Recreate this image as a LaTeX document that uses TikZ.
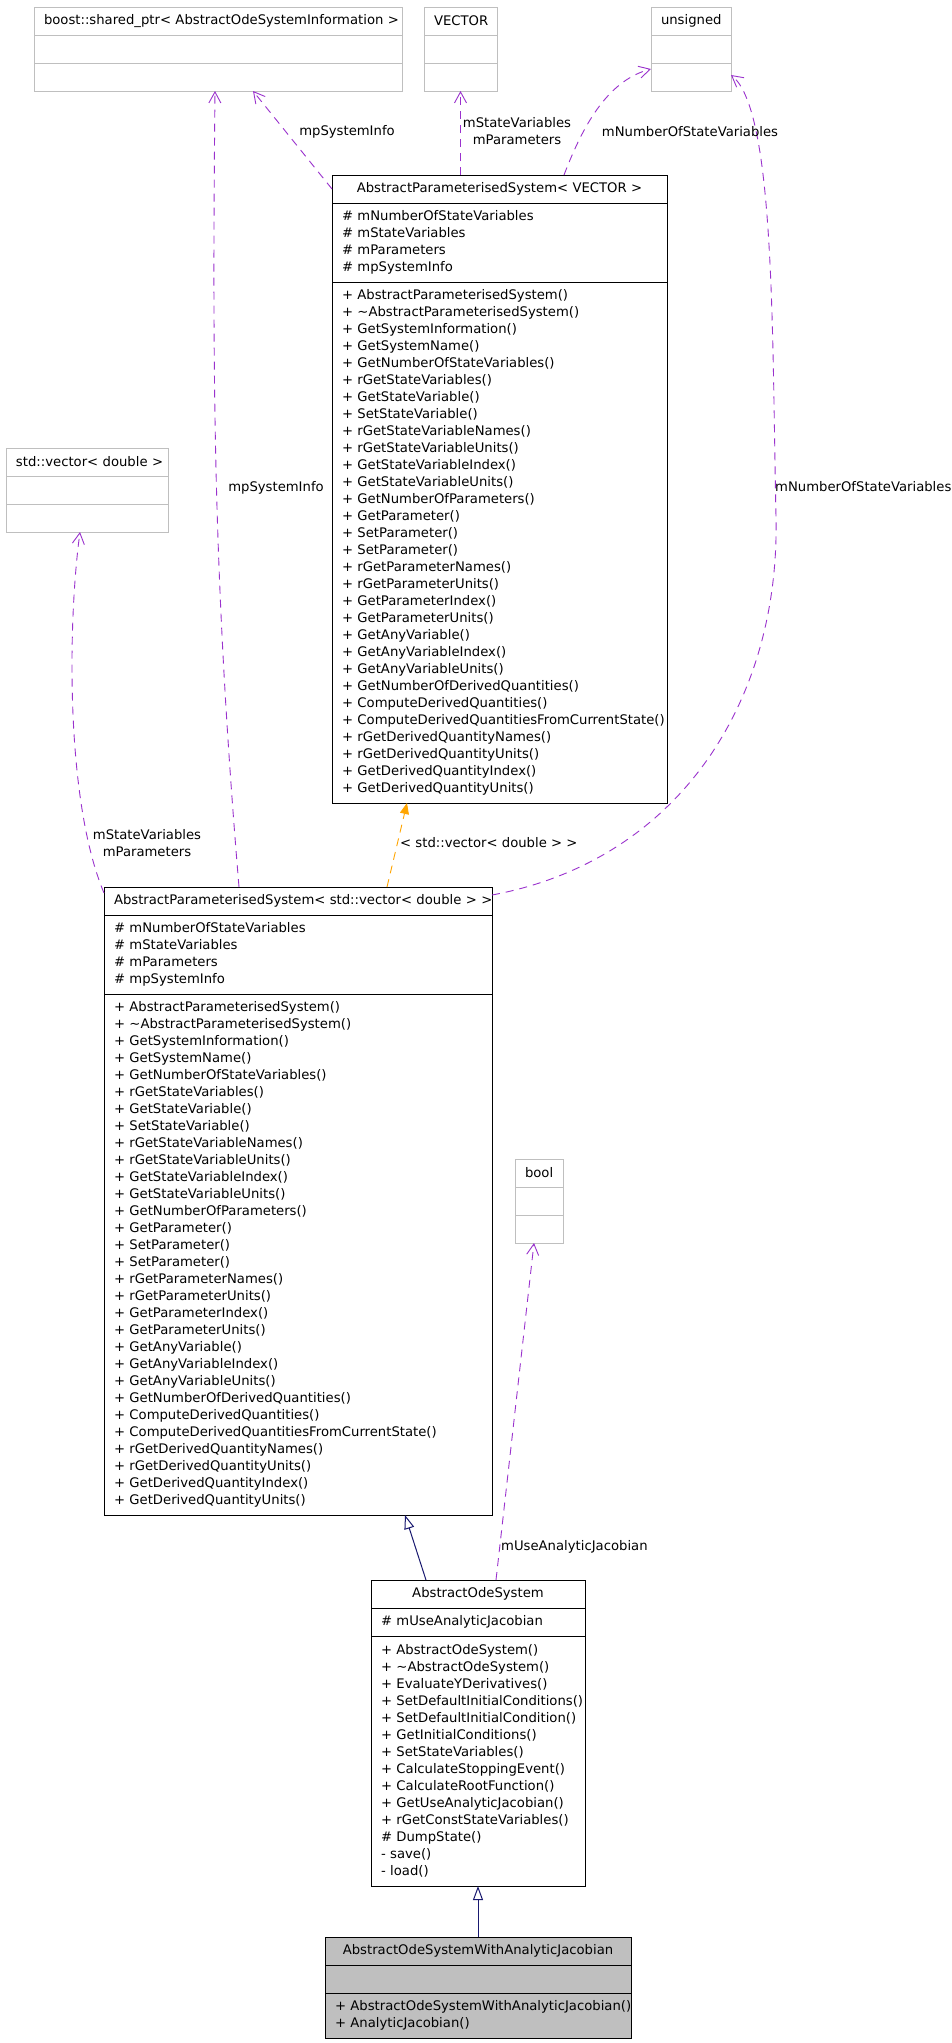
\documentclass[tikz,border=0pt]{standalone}
\usepackage{fontspec}
\setmainfont{DejaVu Sans}
\usetikzlibrary{arrows.meta, positioning, calc}
\definecolor{edgepurple}{RGB}{154,50,205}
\definecolor{edgeorange}{RGB}{255,165,0}
\definecolor{edgeblue}{RGB}{25,25,112}
\definecolor{boxgray}{RGB}{191,191,191}
\hyphenpenalty=10000
\exhyphenpenalty=10000
\tikzset{
  classbox/.style={rectangle, draw=black, line width=1pt, inner xsep=10pt,
    inner ysep=0pt, outer sep=0pt, minimum height=28pt,
    font={\fontsize{13.2}{17}\selectfont}},
  classhead/.style={classbox, align=center},
  classpart/.style={classbox, align=left},
  greybox/.style={draw=boxgray},
  focusbox/.style={fill=boxgray},
  usearrow/.style={-{Straight Barb[length=11pt, width=12pt]}, edgepurple,
    line width=0.9pt, dash pattern=on 8pt off 6pt},
  tplarrow/.style={-{Triangle[length=11pt, width=9pt]}, edgeorange,
    line width=0.9pt, dash pattern=on 8pt off 6pt},
  inhearrow/.style={-{Triangle[length=14pt, width=10pt, fill=white]},
    edgeblue, line width=1pt},
  edgelabel/.style={font={\fontsize{13.2}{17}\selectfont}, inner sep=0pt,
    align=center}
}
\newcommand{\paramsysops}{%
+~AbstractParameterisedSystem()\\
+~\textasciitilde AbstractParameterisedSystem()\\
+~GetSystemInformation()\\
+~GetSystemName()\\
+~GetNumberOfStateVariables()\\
+~rGetStateVariables()\\
+~GetStateVariable()\\
+~SetStateVariable()\\
+~rGetStateVariableNames()\\
+~rGetStateVariableUnits()\\
+~GetStateVariableIndex()\\
+~GetStateVariableUnits()\\
+~GetNumberOfParameters()\\
+~GetParameter()\\
+~SetParameter()\\
+~SetParameter()\\
+~rGetParameterNames()\\
+~rGetParameterUnits()\\
+~GetParameterIndex()\\
+~GetParameterUnits()\\
+~GetAnyVariable()\\
+~GetAnyVariableIndex()\\
+~GetAnyVariableUnits()\\
+~GetNumberOfDerivedQuantities()\\
+~ComputeDerivedQuantities()\\
+~ComputeDerivedQuantitiesFromCurrentState()\\
+~rGetDerivedQuantityNames()\\
+~rGetDerivedQuantityUnits()\\
+~GetDerivedQuantityIndex()\\
+~GetDerivedQuantityUnits()}

\begin{document}
\begin{tikzpicture}[x=1pt, y=-1pt]
  \fill[white] (0,0) rectangle (951,2043);
  \useasboundingbox (0,0) rectangle (951,2043);

  % Types used as members
  \node[classhead, greybox, anchor=north west, text width=348pt] (boosthead) at (34,7)
    {boost::shared\_ptr<~AbstractOdeSystemInformation~>};
  \node[classpart, greybox, text width=348pt, below=0pt of boosthead] (boostattr) {};
  \node[classpart, greybox, text width=348pt, below=0pt of boostattr] (boostops) {};

  \node[classhead, greybox, anchor=north west, text width=53pt] (vectorhead) at (424,7) {VECTOR};
  \node[classpart, greybox, text width=53pt, below=0pt of vectorhead] (vectorattr) {};
  \node[classpart, greybox, text width=53pt, below=0pt of vectorattr] (vectorops) {};

  \node[classhead, greybox, anchor=north west, text width=60pt] (unsignedhead) at (651,7) {unsigned};
  \node[classpart, greybox, text width=60pt, below=0pt of unsignedhead] (unsignedattr) {};
  \node[classpart, greybox, text width=60pt, below=0pt of unsignedattr] (unsignedops) {};

  \node[classhead, greybox, anchor=north west, text width=142pt] (stdvechead) at (6,448)
    {std::vector<~double~>};
  \node[classpart, greybox, text width=142pt, below=0pt of stdvechead] (stdvecattr) {};
  \node[classpart, greybox, text width=142pt, below=0pt of stdvecattr] (stdvecops) {};

  \node[classhead, greybox, anchor=north west, text width=28pt] (boolhead) at (515,1159) {bool};
  \node[classpart, greybox, text width=28pt, below=0pt of boolhead] (boolattr) {};
  \node[classpart, greybox, text width=28pt, below=0pt of boolattr] (boolops) {};

  % AbstractParameterisedSystem< VECTOR >
  \node[classhead, anchor=north west, text width=315pt] (apsvectorhead) at (332,175)
    {AbstractParameterisedSystem<~VECTOR~>};
  \node[classpart, text width=315pt, minimum height=79pt, below=0pt of apsvectorhead] (apsvectorattr)
    {\#~mNumberOfStateVariables\\ \#~mStateVariables\\ \#~mParameters\\ \#~mpSystemInfo};
  \node[classpart, text width=315pt, minimum height=521pt, below=0pt of apsvectorattr] (apsvectorops)
    {\paramsysops};

  % AbstractParameterisedSystem< std::vector< double > >
  \node[classhead, anchor=north west, text width=368pt] (apsdoublehead) at (104,887)
    {AbstractParameterisedSystem<~std::vector<~double~>~>};
  \node[classpart, text width=368pt, minimum height=79pt, below=0pt of apsdoublehead] (apsdoubleattr)
    {\#~mNumberOfStateVariables\\ \#~mStateVariables\\ \#~mParameters\\ \#~mpSystemInfo};
  \node[classpart, text width=368pt, minimum height=521pt, below=0pt of apsdoubleattr] (apsdoubleops)
    {\paramsysops};

  % AbstractOdeSystem
  \node[classhead, anchor=north west, text width=194pt] (odesyshead) at (371,1580) {AbstractOdeSystem};
  \node[classpart, text width=194pt, below=0pt of odesyshead] (odesysattr) {\#~mUseAnalyticJacobian};
  \node[classpart, text width=194pt, minimum height=250pt, below=0pt of odesysattr] (odesysops)
    {+~AbstractOdeSystem()\\
     +~\textasciitilde AbstractOdeSystem()\\
     +~EvaluateYDerivatives()\\
     +~SetDefaultInitialConditions()\\
     +~SetDefaultInitialCondition()\\
     +~GetInitialConditions()\\
     +~SetStateVariables()\\
     +~CalculateStoppingEvent()\\
     +~CalculateRootFunction()\\
     +~GetUseAnalyticJacobian()\\
     +~rGetConstStateVariables()\\
     \#~DumpState()\\
     -~save()\\
     -~load()};

  % AbstractOdeSystemWithAnalyticJacobian
  \node[classhead, focusbox, anchor=north west, text width=286pt] (odejachead) at (325,1937)
    {AbstractOdeSystemWithAnalyticJacobian};
  \node[classpart, focusbox, text width=286pt, below=0pt of odejachead] (odejacattr) {};
  \node[classpart, focusbox, text width=286pt, minimum height=45pt, below=0pt of odejacattr] (odejacops)
    {+~AbstractOdeSystemWithAnalyticJacobian()\\ +~AnalyticJacobian()};

  % usage edges
  \draw[usearrow] (apsvectorhead.west) -- ([xshift=35pt]boostops.south);
  \draw[usearrow] (vectorops.south |- apsvectorhead.north) -- (vectorops.south);
  \draw[usearrow] ([xshift=64.5pt]apsvectorhead.north)
    .. controls (585,120) and (610,80) .. ([yshift=8pt]unsignedops.west);
  \draw[usearrow] ([xshift=-59pt]apsdoublehead.north)
    .. controls +(-25,-300) and +(-3,300) .. ([xshift=-3pt]boostops.south);
  \draw[usearrow] ([yshift=6pt]apsdoublehead.east)
    .. controls (680,860) and (780,700) .. (776,517)
    .. controls (772,330) and (775,110) .. ([yshift=2pt]unsignedops.east);
  \draw[usearrow] ([yshift=8pt]apsdoublehead.west)
    .. controls (65,800) and (68,620) .. ([xshift=-7pt]stdvecops.south);
  \draw[usearrow] ([xshift=18pt]odesyshead.north) -- ([xshift=-5pt]boolops.south);

  % template and inheritance edges
  \draw[tplarrow] ([xshift=89pt]apsdoublehead.north) -- ([xshift=-92.5pt]apsvectorops.south);
  \draw[inhearrow] ([xshift=-52pt]odesyshead.north) -- ([xshift=107pt]apsdoubleops.south);
  \draw[inhearrow] (odejachead.north) -- (odesysops.south);

  % edge labels
  \node[edgelabel] (lblinfoa) at (347,132) {mpSystemInfo};
  \node[edgelabel] (lblvector) at (517,131) {mStateVariables\\mParameters};
  \node[edgelabel] (lblnumvara) at (690,132) {mNumberOfStateVariables};
  \node[edgelabel] (lblinfob) at (276,488) {mpSystemInfo};
  \node[edgelabel, anchor=west] (lblnumvarb) at (775,487) {mNumberOfStateVariables};
  \node[edgelabel] (lblstdvec) at (147,843) {mStateVariables\\mParameters};
  \node[edgelabel, anchor=west] (lbltemplate) at (400,843) {<~std::vector<~double~>~>};
  \node[edgelabel, anchor=west] (lbljacobian) at (501,1547) {mUseAnalyticJacobian};
\end{tikzpicture}
\end{document}
